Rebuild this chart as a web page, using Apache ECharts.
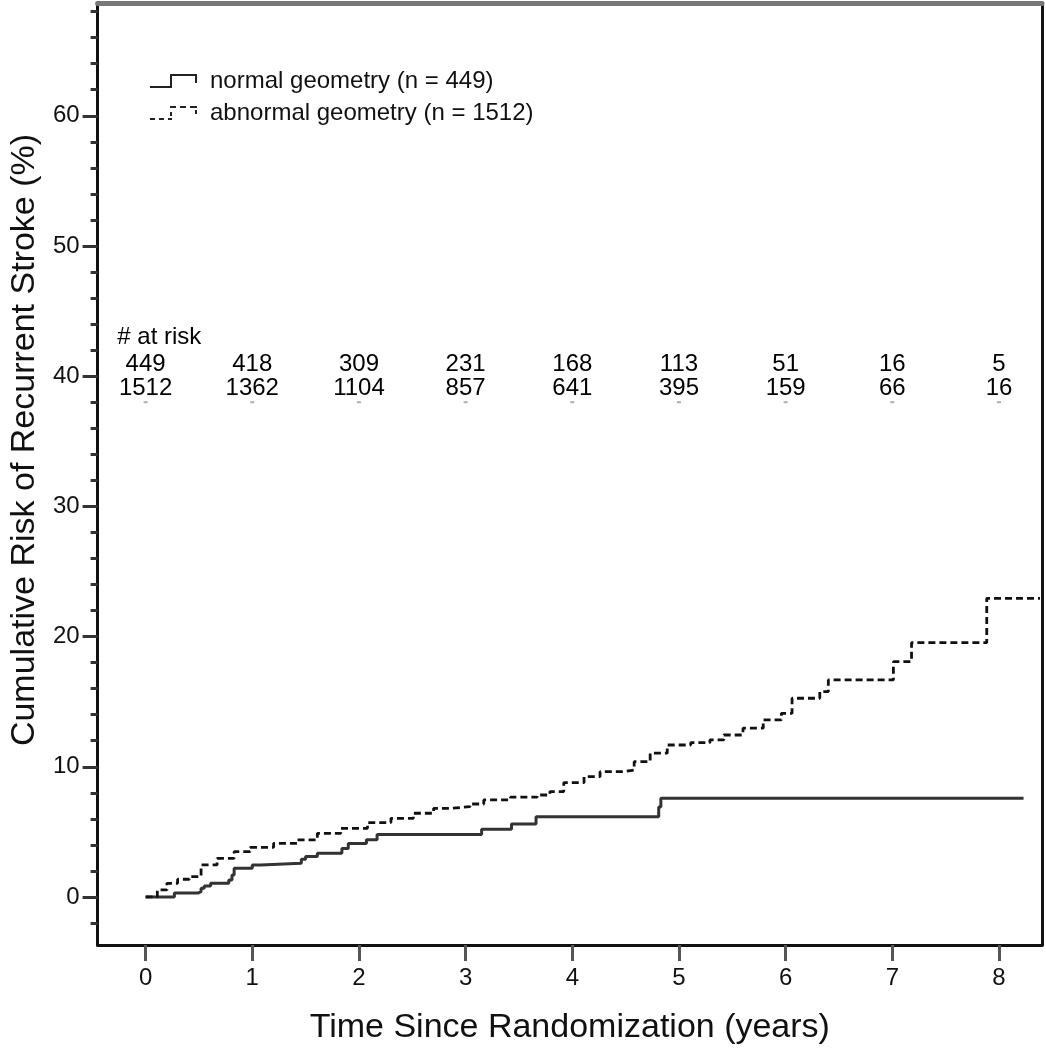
<!DOCTYPE html>
<html>
<head>
<meta charset="utf-8">
<script src="https://cdn.jsdelivr.net/npm/echarts@6/dist/echarts.min.js"></script>
<style>
  html, body { margin: 0; padding: 0; background: #ffffff; }
  #chart { width: 1046px; height: 1050px; }
</style>
</head>
<body>
<div id="chart"></div>
<script>
// ---- data ----
const normalTimes  = [0, 0.27, 0.49, 0.52, 0.55, 0.61, 0.78, 0.81, 0.83, 1.0, 1.08, 1.46, 1.5, 1.61, 1.84, 1.9, 2.07, 2.17, 3.15, 3.43, 3.66, 4.81, 4.83, 8.23];
const normalRisk   = [0, 0.3, 0.41, 0.67, 0.85, 1.05, 1.31, 1.69, 2.2, 2.46, 2.58, 2.9, 3.1, 3.35, 3.73, 4.1, 4.4, 4.8, 5.2, 5.6, 6.16, 6.9, 7.58, 7.58];

const abnormalTimes = [0, 0.11, 0.20, 0.30, 0.41, 0.52, 0.67, 0.83, 0.98, 1.20, 1.42, 1.61, 1.83, 2.08, 2.30, 2.51, 2.70, 2.86, 3.04, 3.17, 3.42, 3.67, 3.79, 3.92, 4.11, 4.26, 4.48, 4.58, 4.73, 4.89, 5.11, 5.29, 5.42, 5.60, 5.79, 5.96, 6.06, 6.32, 6.40, 7.01, 7.18, 7.885, 8.384];
const abnormalRisk  = [0, 0.54, 1.05, 1.36, 1.56, 2.46, 2.97, 3.48, 3.81, 4.12, 4.38, 4.89, 5.27, 5.71, 6.04, 6.43, 6.81, 6.93, 7.14, 7.45, 7.66, 7.83, 8.09, 8.78, 9.24, 9.62, 9.75, 10.39, 11.04, 11.67, 11.85, 12.06, 12.44, 12.96, 13.6, 14.1, 15.26, 15.77, 16.67, 18.07, 19.53, 22.94, 22.94];

const atRiskYears    = [0, 1, 2, 3, 4, 5, 6, 7, 8];
const atRiskNormal   = [449, 418, 309, 231, 168, 113, 51, 16, 5];
const atRiskAbnormal = [1512, 1362, 1104, 857, 641, 395, 159, 66, 16];

const xTickValues      = [0, 1, 2, 3, 4, 5, 6, 7, 8];
const yMajorTickValues = [0, 10, 20, 30, 40, 50, 60];
const yMinorTickValues = [-2, 0, 2, 4, 6, 8, 10, 12, 14, 16, 18, 20, 22, 24, 26, 28, 30, 32, 34, 36, 38, 40, 42, 44, 46, 48, 50, 52, 54, 56, 58, 60, 62, 64, 66, 68];

const seriesNames = ['normal geometry (n = 449)', 'abnormal geometry (n = 1512)'];
const atRiskHeader = '# at risk';

// ---- chart ----
const FONT = "'Liberation Sans', Arial, sans-serif";
const X_MIN = -0.45, X_MAX = 8.403;
const Y_MIN = -3.69, Y_MAX = 68.66;
const ROW_HEADER = 43.0, ROW_1 = 40.9, ROW_2 = 39.07, ROW_MARK = 38.0;

const zip = (a, b) => a.map((v, i) => [v, b[i]]);

const chart = echarts.init(document.getElementById('chart'), null, { renderer: 'canvas' });

const iconNormal = 'path://M0,12H22V14H0Z M20,0H22V14H20Z M20,0H47V2H20Z M45,0H47V9H45Z';
const iconAbnormal = 'path://M0,12H5V14H0Z M9,12H14V14H9Z M18,12H22V14H18Z M20,6H22V10H20Z M20,0H26V2H20Z M30,0H36V2H30Z M40,0H47V2H40Z M45,4H47V8H45Z';

const labelBase = { fontFamily: FONT, fontSize: 24, color: '#000', opacity: 1 };

const option = {
  animation: false,
  backgroundColor: '#ffffff',
  grid: { left: 97, right: 4, top: 3, bottom: 105, containLabel: false },
  legend: {
    orient: 'vertical',
    left: 145,
    top: 64,
    itemWidth: 47,
    itemHeight: 14,
    itemGap: 8,
    textStyle: { fontFamily: FONT, fontSize: 24, color: '#111', padding: [0, 0, 0, 8] },
    data: [
      { name: seriesNames[0], icon: iconNormal, itemStyle: { color: '#222' } },
      { name: seriesNames[1], icon: iconAbnormal, itemStyle: { color: '#222' } }
    ]
  },
  xAxis: [
    {
      type: 'value', position: 'bottom', min: X_MIN, max: X_MAX,
      name: 'Time Since Randomization (years)',
      nameLocation: 'middle', nameGap: 66,
      nameTextStyle: { fontFamily: FONT, fontSize: 34, color: '#111' },
      axisLine: { show: true, onZero: false, lineStyle: { color: '#111', width: 3 } },
      axisTick: { show: true, customValues: xTickValues, length: 16, lineStyle: { color: '#555', width: 3 } },
      axisLabel: { show: true, customValues: xTickValues, margin: 21, fontFamily: FONT, fontSize: 24, color: '#111' },
      splitLine: { show: false }
    },
    {
      type: 'value', position: 'top', min: X_MIN, max: X_MAX,
      axisLine: { show: true, onZero: false, lineStyle: { color: '#777', width: 5 } },
      axisTick: { show: false }, axisLabel: { show: false }, splitLine: { show: false }
    }
  ],
  yAxis: [
    {
      type: 'value', position: 'left', min: Y_MIN, max: Y_MAX,
      axisLine: { show: true, onZero: false, lineStyle: { color: '#111', width: 3 } },
      axisTick: { show: true, customValues: yMinorTickValues, length: 7, lineStyle: { color: '#333', width: 3 } },
      axisLabel: { show: false },
      splitLine: { show: false }
    },
    {
      type: 'value', position: 'left', min: Y_MIN, max: Y_MAX,
      name: 'Cumulative Risk of Recurrent Stroke (%)',
      nameLocation: 'middle', nameGap: 53,
      nameTextStyle: { fontFamily: FONT, fontSize: 34, color: '#111', padding: [0, 0, 0, 68] },
      axisLine: { show: false, onZero: false },
      axisTick: { show: true, customValues: yMajorTickValues, length: 15, lineStyle: { color: '#333', width: 3 } },
      axisLabel: { show: true, customValues: yMajorTickValues, margin: 18, fontFamily: FONT, fontSize: 24, color: '#111' },
      splitLine: { show: false }
    },
    {
      type: 'value', position: 'right', min: Y_MIN, max: Y_MAX,
      axisLine: { show: true, onZero: false, lineStyle: { color: '#111', width: 3 } },
      axisTick: { show: false }, axisLabel: { show: false }, splitLine: { show: false }
    }
  ],
  series: [
    {
      name: seriesNames[0], type: 'line', step: 'end', xAxisIndex: 0, yAxisIndex: 0,
      symbol: 'none', data: zip(normalTimes, normalRisk),
      lineStyle: { color: '#333', width: 3 },
      itemStyle: { color: '#222' }, z: 5
    },
    {
      name: seriesNames[1], type: 'line', step: 'end', xAxisIndex: 0, yAxisIndex: 0,
      symbol: 'none', data: zip(abnormalTimes, abnormalRisk),
      lineStyle: { color: '#111', width: 2.8, type: [7, 4] },
      itemStyle: { color: '#222' }, z: 5
    },
    {
      name: 'atRiskHeader', type: 'scatter', xAxisIndex: 0, yAxisIndex: 0,
      symbolSize: 1, itemStyle: { color: 'rgba(0,0,0,0)' }, silent: true,
      data: [[-0.265, ROW_HEADER, atRiskHeader]],
      label: Object.assign({ show: true, position: 'inside', align: 'left', verticalAlign: 'middle',
               formatter: p => p.value[2] }, labelBase)
    },
    {
      name: 'atRiskNormal', type: 'scatter', xAxisIndex: 0, yAxisIndex: 0,
      symbolSize: 1, itemStyle: { color: 'rgba(0,0,0,0)' }, silent: true,
      data: atRiskYears.map((t, i) => [t, ROW_1, atRiskNormal[i]]),
      label: Object.assign({ show: true, position: 'inside', align: 'center', verticalAlign: 'middle',
               formatter: p => String(p.value[2]) }, labelBase)
    },
    {
      name: 'atRiskAbnormal', type: 'scatter', xAxisIndex: 0, yAxisIndex: 0,
      symbolSize: 1, itemStyle: { color: 'rgba(0,0,0,0)' }, silent: true,
      data: atRiskYears.map((t, i) => [t, ROW_2, atRiskAbnormal[i]]),
      label: Object.assign({ show: true, position: 'inside', align: 'center', verticalAlign: 'middle',
               formatter: p => String(p.value[2]) }, labelBase)
    },
    {
      name: 'atRiskMarks', type: 'scatter', xAxisIndex: 0, yAxisIndex: 0,
      symbol: 'rect', symbolSize: [4, 2], itemStyle: { color: '#999' }, silent: true,
      data: atRiskYears.map(t => [t, ROW_MARK])
    }
  ]
};

chart.setOption(option);
</script>
</body>
</html>
